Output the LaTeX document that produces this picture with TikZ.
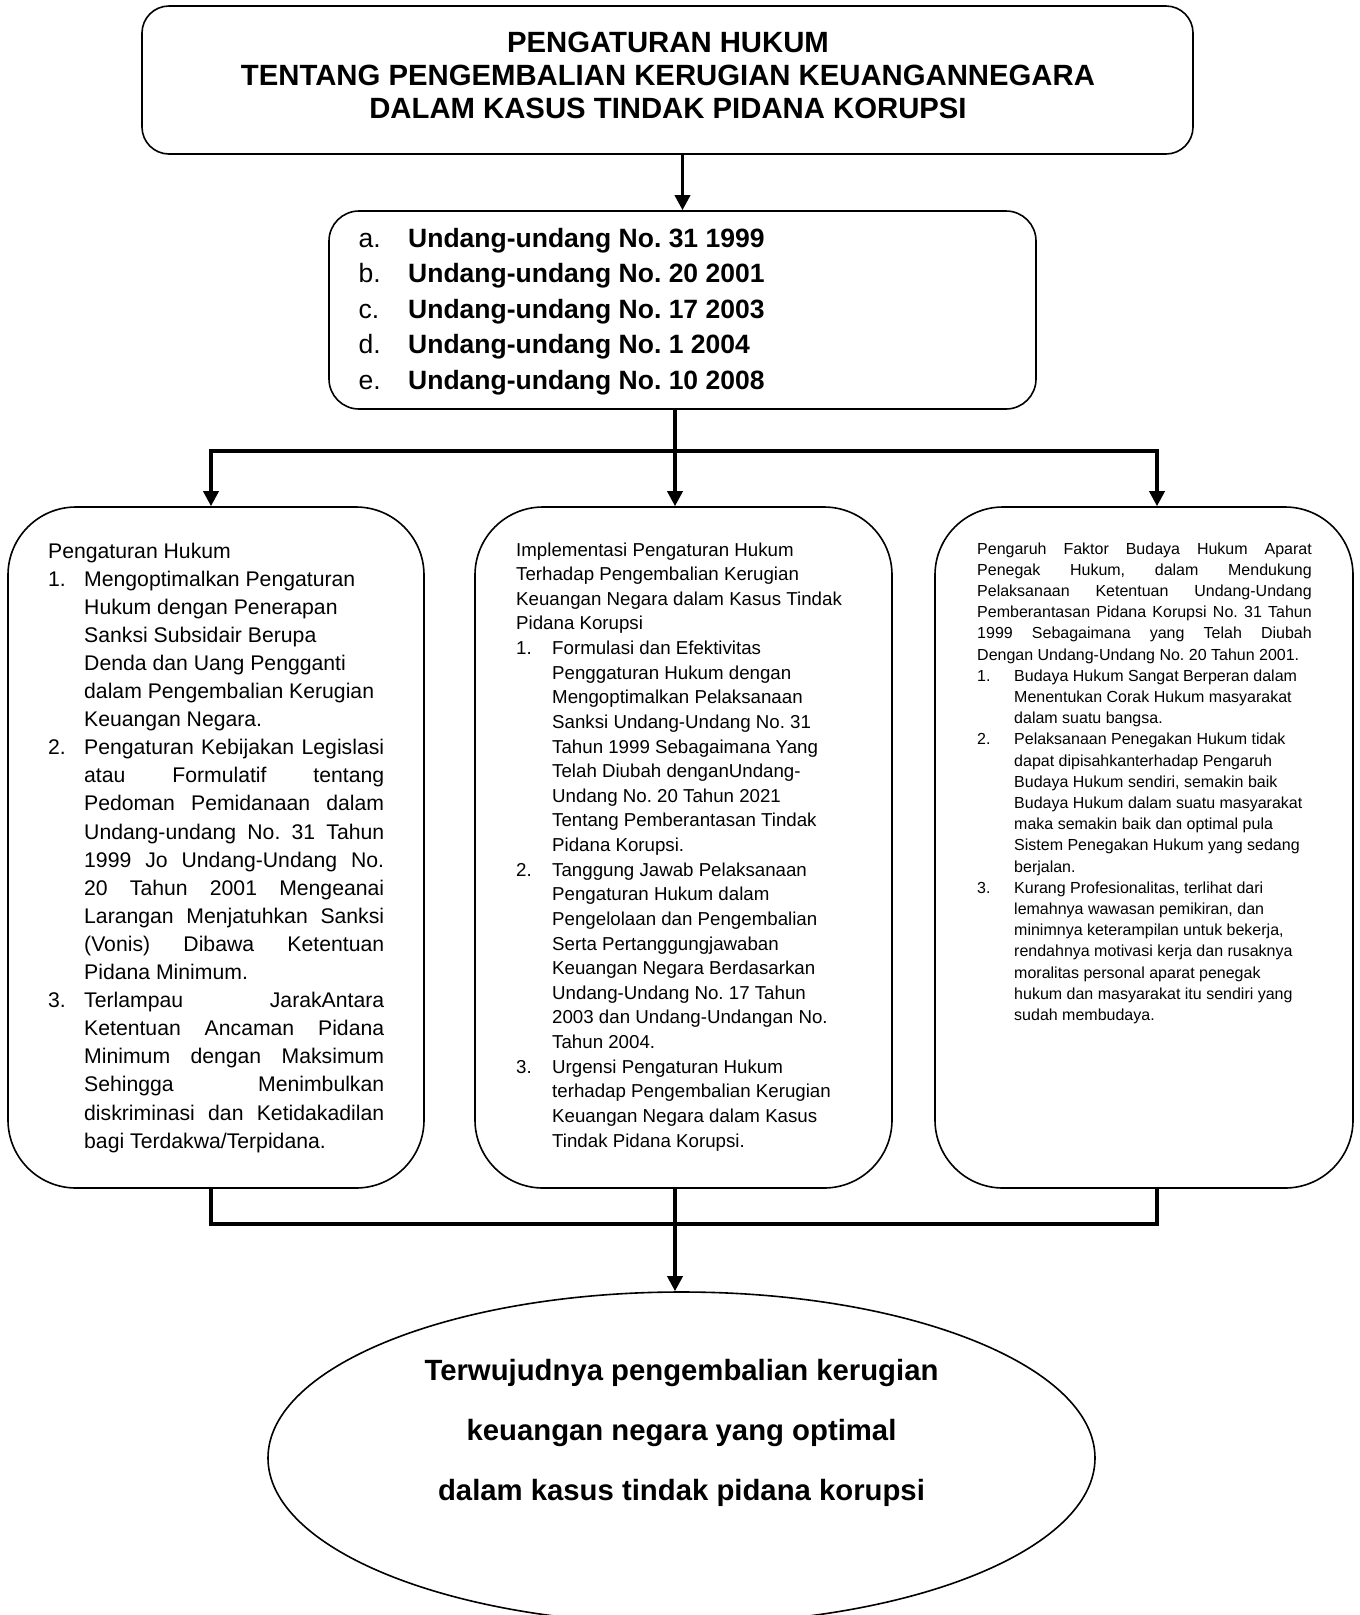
\documentclass[tikz,border=0pt]{standalone}
\usepackage{fontspec}
\setmainfont{Liberation Sans}
\usepackage{tikz}
\usetikzlibrary{arrows.meta}
\usetikzlibrary{shapes.geometric}
\frenchspacing

\newlength{\numgap}
\newlength{\jw}
\newcommand{\fsz}[2]{\fontsize{#1}{#2}\selectfont}
\newcommand{\normsp}{\spaceskip=0pt\xspaceskip=0pt\relax}
\newcommand{\jl}[2][\numgap]{\makebox[\dimexpr\jw-#1\relax][s]{#2}}
\newcommand{\numitem}[2]{\par\hangindent=\numgap\hangafter=1\noindent\makebox[\numgap][l]{#1}#2\par}

\begin{document}
\begin{tikzpicture}[x=1pt,y=-1pt,
    roundbox/.style={draw,line width=1.6pt,inner sep=0pt,rounded corners=#1},
    roundbox/.default=27pt,
    linkline/.style={line width=3.5pt},
    linkarrow/.style={line width=3.5pt,-{Triangle[width=15pt,length=15pt]}},
    boxtext/.style={anchor=base west,inner sep=0pt,text width=#1,align=left},
    centertext/.style={anchor=base,inner sep=0pt,text width=#1,align=center}]

  \useasboundingbox (0,0) rectangle (1360,1615);

  \node[roundbox,minimum width=1051pt,minimum height=148pt] (title) at (667.5,80) {};
  \node[roundbox=30pt,minimum width=707pt,minimum height=198pt] (laws) at (682.5,310) {};
  \node[roundbox=68pt,minimum width=416pt,minimum height=681pt] (left) at (216,847.5) {};
  \node[roundbox=68pt,minimum width=417pt,minimum height=681pt] (mid) at (683.5,847.5) {};
  \node[roundbox=68pt,minimum width=418pt,minimum height=681pt] (right) at (1144,847.5) {};
  \node[ellipse,draw,line width=1.6pt,inner sep=0pt,minimum width=827pt,minimum height=332pt] (goal) at (681.5,1458) {};

  \node[centertext=1000pt,font=\fsz{29.3}{33}\bfseries] (titlelbl) at (668,52.5) {\normsp\centering
    PENGATURAN HUKUM\\
    TENTANG PENGEMBALIAN KERUGIAN KEUANGANNEGARA\\
    DALAM KASUS TINDAK PIDANA KORUPSI\par};

  \node[boxtext=620pt,font=\fsz{26.5}{35.4}] (lawslbl) at (358.5,247.5) {\normsp
    \makebox[49.5pt][l]{a.}\textbf{Undang-undang No. 31 1999}\\
    \makebox[49.5pt][l]{b.}\textbf{Undang-undang No. 20 2001}\\
    \makebox[49.5pt][l]{c.}\textbf{Undang-undang No. 17 2003}\\
    \makebox[49.5pt][l]{d.}\textbf{Undang-undang No. 1 2004}\\
    \makebox[49.5pt][l]{e.}\textbf{Undang-undang No. 10 2008}\par};

  \node[boxtext=345pt,font=\fsz{21.2}{28.1}] (leftlbl) at (48,558) {\normsp
    \setlength{\numgap}{36pt}\setlength{\jw}{336pt}%
    Pengaturan Hukum
    \numitem{1.}{Mengoptimalkan Pengaturan\newline
      Hukum dengan Penerapan\newline
      Sanksi Subsidair Berupa\newline
      Denda dan Uang Pengganti\newline
      dalam Pengembalian Kerugian\newline
      Keuangan Negara.}
    \numitem{2.}{\jl{Pengaturan Kebijakan Legislasi}\newline
      \jl{atau Formulatif tentang}\newline
      \jl{Pedoman Pemidanaan dalam}\newline
      \jl{Undang-undang No. 31 Tahun}\newline
      \jl{1999 Jo Undang-Undang No.}\newline
      \jl{20 Tahun 2001 Mengeanai}\newline
      \jl{Larangan Menjatuhkan Sanksi}\newline
      \jl{(Vonis) Dibawa Ketentuan}\newline
      Pidana Minimum.}
    \numitem{3.}{\jl{Terlampau JarakAntara}\newline
      \jl{Ketentuan Ancaman Pidana}\newline
      \jl{Minimum dengan Maksimum}\newline
      \jl{Sehingga Menimbulkan}\newline
      \jl{diskriminasi dan Ketidakadilan}\newline
      bagi Terdakwa/Terpidana.}};

  \node[boxtext=345pt,font=\fsz{18.7}{24.63}] (midlbl) at (516,556) {\normsp
    \setlength{\numgap}{36pt}%
    Implementasi Pengaturan Hukum\newline
    Terhadap Pengembalian Kerugian\newline
    Keuangan Negara dalam Kasus Tindak\newline
    Pidana Korupsi
    \numitem{1.}{Formulasi dan Efektivitas\newline
      Penggaturan Hukum dengan\newline
      Mengoptimalkan Pelaksanaan\newline
      Sanksi Undang-Undang No. 31\newline
      Tahun 1999 Sebagaimana Yang\newline
      Telah Diubah denganUndang-\newline
      Undang No. 20 Tahun 2021\newline
      Tentang Pemberantasan Tindak\newline
      Pidana Korupsi.}
    \numitem{2.}{Tanggung Jawab Pelaksanaan\newline
      Pengaturan Hukum dalam\newline
      Pengelolaan dan Pengembalian\newline
      Serta Pertanggungjawaban\newline
      Keuangan Negara Berdasarkan\newline
      Undang-Undang No. 17 Tahun\newline
      2003 dan Undang-Undangan No.\newline
      Tahun 2004.}
    \numitem{3.}{Urgensi Pengaturan Hukum\newline
      terhadap Pengembalian Kerugian\newline
      Keuangan Negara dalam Kasus\newline
      Tindak Pidana Korupsi.}};

  \node[boxtext=345pt,font=\fsz{16}{21.2}] (rightlbl) at (977,554) {\normsp
    \setlength{\numgap}{37pt}\setlength{\jw}{334.6pt}%
    \jl[0pt]{Pengaruh Faktor Budaya Hukum Aparat}\newline
    \jl[0pt]{Penegak Hukum, dalam Mendukung}\newline
    \jl[0pt]{Pelaksanaan Ketentuan Undang-Undang}\newline
    \jl[0pt]{Pemberantasan Pidana Korupsi No. 31 Tahun}\newline
    \jl[0pt]{1999 Sebagaimana yang Telah Diubah}\newline
    Dengan Undang-Undang No. 20 Tahun 2001.
    \numitem{1.}{Budaya Hukum Sangat Berperan dalam\newline
      Menentukan Corak Hukum masyarakat\newline
      dalam suatu bangsa.}
    \numitem{2.}{Pelaksanaan Penegakan Hukum tidak\newline
      dapat dipisahkanterhadap Pengaruh\newline
      Budaya Hukum sendiri, semakin baik\newline
      Budaya Hukum dalam suatu masyarakat\newline
      maka semakin baik dan optimal pula\newline
      Sistem Penegakan Hukum yang sedang\newline
      berjalan.}
    \numitem{3.}{Kurang Profesionalitas, terlihat dari\newline
      lemahnya wawasan pemikiran, dan\newline
      minimnya keterampilan untuk bekerja,\newline
      rendahnya motivasi kerja dan rusaknya\newline
      moralitas personal aparat penegak\newline
      hukum dan masyarakat itu sendiri yang\newline
      sudah membudaya.}};

  \node[centertext=760pt,font=\fsz{29.3}{60}\bfseries] (goallbl) at (681.5,1380) {\normsp\centering
    Terwujudnya pengembalian kerugian\\
    keuangan negara yang optimal\\
    dalam kasus tindak pidana korupsi\par};

  \coordinate (split) at (675,451);
  \coordinate (jl) at (211,451);
  \coordinate (jr) at (1157,451);
  \coordinate (kl) at (211,1224);
  \coordinate (ks) at (675,1224);
  \coordinate (kr) at (1157,1224);

  \draw[linkarrow] (title.south -| laws.north) -- (laws.north);
  \draw[linkline] (laws.south -| split) -- (split);
  \draw[linkarrow] (split) -- (jl) -- (left.north -| jl);
  \draw[linkarrow] (split) -- (mid.north -| split);
  \draw[linkarrow] (split) -- (jr) -- (right.north -| jr);
  \draw[linkline] (left.south -| kl) -- (kl) -- (kr) -- (right.south -| kr);
  \draw[linkline] (mid.south -| ks) -- (ks);
  \draw[linkarrow] (ks) -- (goal.north -| ks);
\end{tikzpicture}
\end{document}
